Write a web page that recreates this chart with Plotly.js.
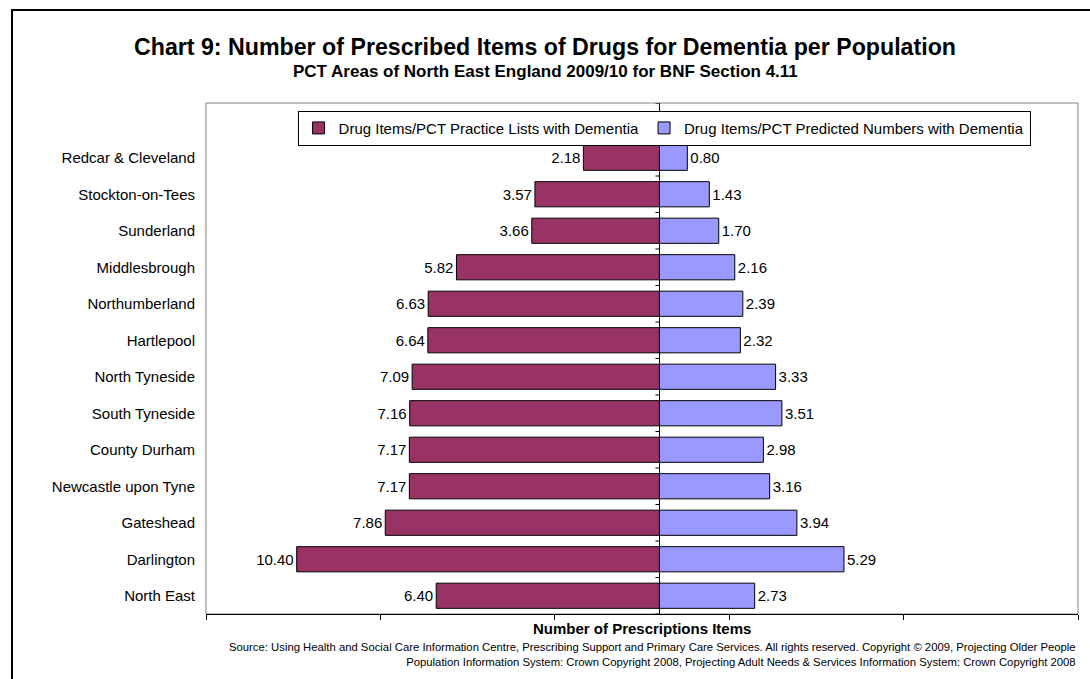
<!DOCTYPE html>
<html>
<head>
<meta charset="utf-8">
<script src="https://cdn.plot.ly/plotly-3.0.1.min.js"></script>
<style>
  html, body { margin: 0; padding: 0; background: #fff; overflow: hidden; }
  #frame {
    position: absolute; left: 11px; top: 9px; width: 2000px; height: 2000px;
    border-left: 2px solid #000; border-top: 2px solid #000; box-sizing: border-box;
  }
  #chart { position: absolute; left: 0; top: 0; width: 1090px; height: 679px; }
</style>
</head>
<body>
<div id="frame"></div>
<div id="chart"></div>
<script>
// PCT areas, listed top to bottom
const areas = [
  "Redcar & Cleveland", "Stockton-on-Tees", "Sunderland", "Middlesbrough",
  "Northumberland", "Hartlepool", "North Tyneside", "South Tyneside",
  "County Durham", "Newcastle upon Tyne", "Gateshead", "Darlington", "North East"
];

// Drug items per PCT practice lists with dementia
const practiceLists = [2.18, 3.57, 3.66, 5.82, 6.63, 6.64, 7.09, 7.16, 7.17, 7.17, 7.86, 10.40, 6.40];

// Drug items per PCT predicted numbers with dementia
const predictedNumbers = [0.80, 1.43, 1.70, 2.16, 2.39, 2.32, 3.33, 3.51, 2.98, 3.16, 3.94, 5.29, 2.73];

const xTicks = [-13, -8, -3, 2, 7, 12];

const FONT = "Arial, 'Liberation Sans', sans-serif";

const practiceTrace = {
  type: "bar",
  orientation: "h",
  name: "Drug Items/PCT Practice Lists with Dementia",
  y: areas,
  x: practiceLists.map(v => -v),          // drawn to the left of zero
  text: practiceLists.map(v => v.toFixed(2)),
  textposition: "outside",
  cliponaxis: false,
  textfont: { family: FONT, size: 15, color: "#000" },
  marker: { color: "#993366", line: { color: "#000", width: 1 } },
  hoverinfo: "skip"
};

const predictedTrace = {
  type: "bar",
  orientation: "h",
  name: "Drug Items/PCT Predicted Numbers with Dementia",
  y: areas,
  x: predictedNumbers,
  text: predictedNumbers.map(v => v.toFixed(2)),
  textposition: "outside",
  cliponaxis: false,
  textfont: { family: FONT, size: 15, color: "#000" },
  marker: { color: "#9999FF", line: { color: "#000", width: 1 } },
  hoverinfo: "skip"
};

// Small tick marks on the zero line at each category boundary
const topSlot = -1.5;
const boundaryTicks = [];
for (let b = topSlot; b <= areas.length - 0.5; b += 1) {
  boundaryTicks.push({
    type: "line", xref: "x", yref: "y", layer: "above",
    xsizemode: "pixel", xanchor: 0, x0: -4, x1: 0,
    y0: b, y1: b,
    line: { color: "#000", width: 1 }
  });
}

const layout = {
  width: 1090, height: 679,
  margin: { l: 206, r: 12, t: 103, b: 65, pad: 0 },
  paper_bgcolor: "rgba(0,0,0,0)",
  plot_bgcolor: "#fff",
  font: { family: FONT, size: 15, color: "#000" },
  barmode: "relative",
  bargap: 0.31,
  showlegend: true,
  title: {
    text: "<b>Chart 9: Number of Prescribed Items of Drugs for Dementia per Population</b>",
    font: { family: FONT, size: 23.2, color: "#000" },
    x: 0.5, xref: "container", xanchor: "center",
    y: 1 - 47 / 679, yref: "container", yanchor: "middle"
  },
  legend: {
    orientation: "h",
    x: 0.105, xanchor: "left",
    y: 0.985, yanchor: "top",
    bgcolor: "#fff",
    bordercolor: "#000", borderwidth: 1,
    font: { family: FONT, size: 15, color: "#000" },
    itemclick: false, itemdoubleclick: false,
    traceorder: "normal"
  },
  xaxis: {
    range: [-13, 12],
    tickmode: "array", tickvals: xTicks,
    showticklabels: false,
    ticks: "outside", ticklen: 5, tickcolor: "#000", tickwidth: 1,
    showline: true, linecolor: "#000", linewidth: 1,
    showgrid: false,
    zeroline: true, zerolinecolor: "#000", zerolinewidth: 1,
    fixedrange: true
  },
  yaxis: {
    type: "category",
    categoryorder: "array", categoryarray: areas,
    range: [areas.length - 0.5, topSlot],
    ticks: "", showline: false, showgrid: false, zeroline: false,
    ticklabelstandoff: 10,
    tickfont: { family: FONT, size: 15, color: "#000" },
    fixedrange: true
  },
  shapes: [
    {
      type: "rect", xref: "paper", yref: "paper", layer: "below",
      x0: 0, x1: 1, y0: 0, y1: 1,
      line: { color: "#808080", width: 1 }, fillcolor: "rgba(0,0,0,0)"
    }
  ].concat(boundaryTicks),
  annotations: [
    {
      text: "<b>PCT Areas of North East England 2009/10 for BNF Section 4.11</b>",
      xref: "paper", yref: "paper",
      x: (545 - 206) / 872, y: (614 - 72) / 511,
      xanchor: "center", yanchor: "middle",
      showarrow: false,
      font: { family: FONT, size: 17, color: "#000" }
    },
    {
      text: "<b>Number of Prescriptions Items</b>",
      xref: "paper", yref: "paper",
      x: 0.5, y: 0, yshift: -14,
      xanchor: "center", yanchor: "middle",
      showarrow: false,
      font: { family: FONT, size: 15, color: "#000" }
    },
    {
      text: "Source: Using Health and Social Care Information Centre, Prescribing Support and Primary Care Services. All rights reserved. Copyright © 2009, Projecting Older People<br>Population Information System: Crown Copyright 2008, Projecting Adult Needs &amp; Services Information System: Crown Copyright 2008",
      xref: "paper", yref: "paper",
      x: 1, y: 0, yshift: -25,
      xanchor: "right", yanchor: "top", align: "right",
      showarrow: false,
      font: { family: FONT, size: 11.3, color: "#000" }
    }
  ]
};

Plotly.newPlot("chart", [practiceTrace, predictedTrace], layout, {
  staticPlot: true, displayModeBar: false
});
</script>
</body>
</html>
